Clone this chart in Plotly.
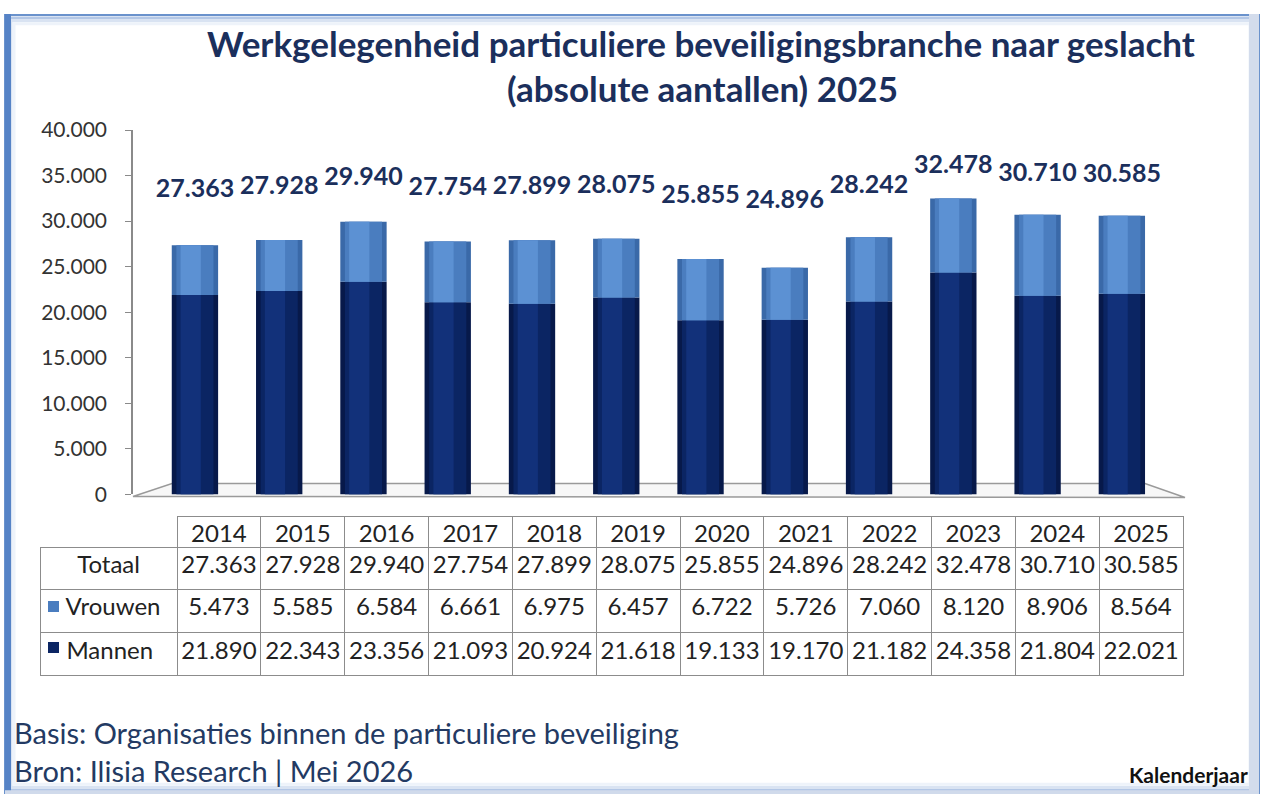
import plotly.graph_objects as go

years = ["2014", "2015", "2016", "2017", "2018", "2019", "2020", "2021", "2022", "2023", "2024", "2025"]
totaal = [27363, 27928, 29940, 27754, 27899, 28075, 25855, 24896, 28242, 32478, 30710, 30585]
vrouwen = [5473, 5585, 6584, 6661, 6975, 6457, 6722, 5726, 7060, 8120, 8906, 8564]
mannen = [21890, 22343, 23356, 21093, 20924, 21618, 19133, 19170, 21182, 24358, 21804, 22021]
y_ticks = [0, 5000, 10000, 15000, 20000, 25000, 30000, 35000, 40000]
row_labels = ["Totaal", "Vrouwen", "Mannen"]

W, H = 1264, 805
FONT = "Lato"
NAVY = "#1b2f5c"
C_VROUW = "#4a7dbf"
C_MAN = "#0b2563"

# vertical calibration of the photographed page
V_OFF, V_SCALE = 11.5, 0.973


def fx(x):
    return x / W


def fy(y):
    yy = (y - V_OFF) / V_SCALE
    yy = min(max(yy, 0.5), H - 0.5)
    return 1 - yy / H


def nl(v):
    return f"{v:,}".replace(",", ".")


fig = go.Figure()

# cylinder-like stacked bars (overlayed layers for shading)
m_layers = [(0.55, None, "#07194a"), (0.44, None, "#0b2563"), (0.24, -0.17, "#12317a")]
v_layers = [(0.55, None, "#3a69a8"), (0.44, None, "#4a7dbf"), (0.24, -0.17, "#5c91d3")]
for w, off, col in m_layers:
    fig.add_trace(go.Bar(x=years, y=mannen, width=w, offset=off, marker=dict(color=col, line=dict(width=0)),
                         showlegend=False, name="Mannen", hoverinfo="skip" if w < 0.5 else None))
for w, off, col in v_layers:
    fig.add_trace(go.Bar(x=years, y=vrouwen, base=mannen, width=w, offset=off,
                         marker=dict(color=col, line=dict(width=0)),
                         showlegend=False, name="Vrouwen", hoverinfo="skip" if w < 0.5 else None))

# total labels
label_y = [0.5 * t + 19700 for t in totaal]
fig.add_trace(go.Scatter(x=years, y=label_y, mode="text", text=[nl(t) for t in totaal],
                         textfont=dict(family=FONT, size=25, color=NAVY, weight="bold"),
                         textposition="middle center", showlegend=False, hoverinfo="skip"))

# data table: header row with years
colw = [137] + [83.8] * 12
TFONT = dict(family=FONT, size=24, color="#222222")
r0, r1, r2, r3, r4 = 516, 547, 588, 630, 672
s = lambda a, b: (b - a) / V_SCALE
fig.add_trace(go.Table(
    domain=dict(x=[fx(177), fx(1183)], y=[fy(r1 + 20), fy(r0)]),
    columnwidth=[83.8] * 12,
    header=dict(values=years, height=s(r0, r1), align="center", fill_color="white",
                line=dict(color="#8c8c8c", width=1), font=TFONT),
    cells=dict(values=[[] for _ in years]),
))

pad = "\u00a0\u00a0\u00a0"
fig.add_trace(go.Table(
    domain=dict(x=[fx(40), fx(1183)], y=[fy(r4 + 20), fy(r1)]),
    columnwidth=colw,
    header=dict(values=[row_labels[0]] + [nl(t) for t in totaal], height=s(r1, r2), align="center",
                fill_color="white", line=dict(color="#8c8c8c", width=1), font=TFONT),
    cells=dict(values=[[pad + row_labels[1], pad + row_labels[2]]] +
                      [[nl(v), nl(m)] for v, m in zip(vrouwen, mannen)],
               height=s(r2, r3), align=["left"] + ["center"] * 12, fill_color="white",
               line=dict(color="#8c8c8c", width=1), font=TFONT),
))

shapes = []
# floor of the 3D plot
shapes.append(dict(type="path", xref="paper", yref="paper", layer="below",
                   path=f"M {fx(133)},{fy(496)} L {fx(172)},{fy(483)} L {fx(1145)},{fy(483)} L {fx(1185)},{fy(497)} Z",
                   fillcolor="#f7f7f7", line=dict(color="#9a9a9a", width=1.5)))
# frame with soft inner shadow
frame = [(5, 4, 1259, 801, "#6a92cc", 2), (8, 7, 1256, 798, "#b3c7e6", 3),
         (11, 10, 1253, 795, "#d9e3f2", 3), (14, 13, 1250, 792, "#eef3fa", 3)]
for i, (x0, y0, x1, y1, c, lw) in enumerate(frame):
    shapes.append(dict(type="rect", xref="paper", yref="paper", x0=fx(x0), x1=fx(x1),
                       y0=1 - (H - 1 - 3 * i) / H, y1=1 - (1 + 3 * i) / H,
                       line=dict(color=c, width=lw), fillcolor="rgba(0,0,0,0)", layer="above"))
shapes.append(dict(type="rect", xref="paper", yref="paper", x0=fx(5), x1=fx(11), y0=0, y1=1,
                   line=dict(width=0), fillcolor="#5683c6", layer="above"))
shapes.append(dict(type="rect", xref="paper", yref="paper", x0=fx(1249), x1=fx(1259), y0=0, y1=1,
                   line=dict(width=0), fillcolor="#d3dcec", layer="above"))
shapes.append(dict(type="rect", xref="paper", yref="paper", x0=fx(5), x1=fx(1259), y0=0, y1=fy(791),
                   line=dict(width=0), fillcolor="#d0daeb", layer="above"))

annotations = [
    dict(text="<b>Werkgelegenheid particuliere beveiligingsbranche naar geslacht</b>", x=fx(701), y=fy(41),
         xref="paper", yref="paper", showarrow=False, xanchor="center", yanchor="middle",
         font=dict(family=FONT, size=35, color=NAVY)),
    dict(text="<b>(absolute aantallen) 2025</b>", x=fx(702), y=fy(86),
         xref="paper", yref="paper", showarrow=False, xanchor="center", yanchor="middle",
         font=dict(family=FONT, size=35, color=NAVY)),
    dict(text="Basis: Organisaties binnen de particuliere beveiliging", x=fx(12), y=fy(733),
         xref="paper", yref="paper", showarrow=False, xanchor="left", yanchor="middle",
         font=dict(family=FONT, size=29, color="#233a63")),
    dict(text="Bron: Ilisia Research | Mei 2026", x=fx(12), y=fy(771),
         xref="paper", yref="paper", showarrow=False, xanchor="left", yanchor="middle",
         font=dict(family=FONT, size=29, color="#233a63")),
    dict(text="<b>Kalenderjaar</b>", x=fx(1250), y=fy(775),
         xref="paper", yref="paper", showarrow=False, xanchor="right", yanchor="middle",
         font=dict(family=FONT, size=21, color="#111111")),
]
# legend swatches in the data table
for yc, col in [(606, C_VROUW), (648, C_MAN)]:
    annotations.append(dict(text=" ", x=fx(48), y=fy(yc), xref="paper", yref="paper", showarrow=False,
                            xanchor="left", yanchor="middle", width=11, height=11, bgcolor=col,
                            borderpad=0, borderwidth=0, font=dict(size=2)))

fig.update_layout(
    width=W, height=H, autosize=False,
    margin=dict(l=0, r=0, t=0, b=0),
    paper_bgcolor="white", plot_bgcolor="rgba(0,0,0,0)",
    barmode="overlay", separators=",.",
    showlegend=False,
    shapes=shapes, annotations=annotations,
    xaxis=dict(type="category", domain=[fx(133), fx(1164)], range=[-0.735, 11.5],
               showticklabels=False, showgrid=False, zeroline=False, showline=False, ticks=""),
    yaxis=dict(domain=[fy(494), fy(128)], range=[0, 40000], tickvals=y_ticks, tickformat=",d",
               showgrid=False, zeroline=False, showline=True, linecolor="#8a8a8a", linewidth=1.5,
               ticks="outside", ticklen=6, tickcolor="#8a8a8a", ticklabelstandoff=14,
               tickfont=dict(family=FONT, size=21, color="#333333")),
    font=dict(family=FONT),
)

post = "document.body.style.margin='0';document.body.style.overflow='hidden';"
fig.write_html("out.html", config={"displayModeBar": False}, post_script=post)
